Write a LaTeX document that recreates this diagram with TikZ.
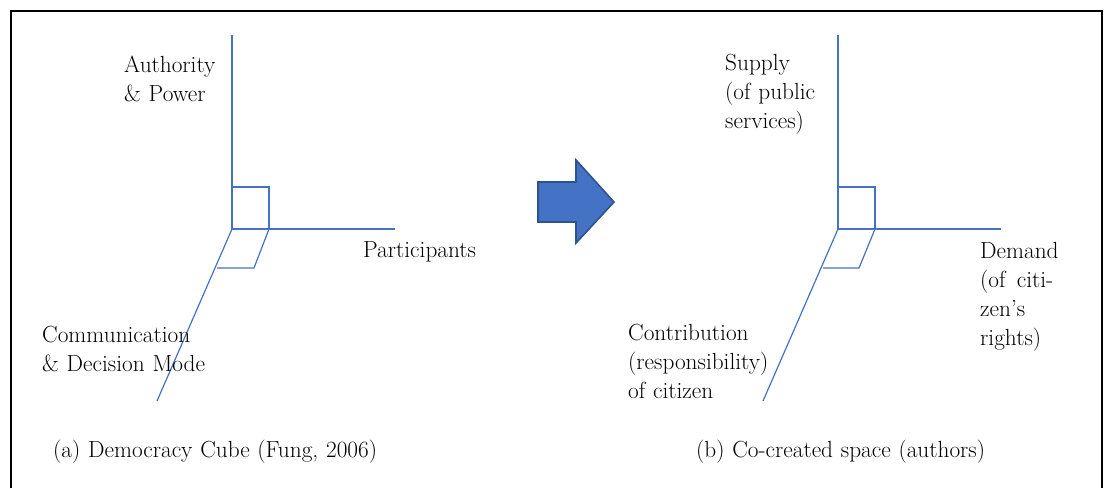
\documentclass[tikz,border=0pt]{standalone}
\usepackage{xcolor}
\definecolor{axisblue}{HTML}{4472C4}
\definecolor{arrowedge}{HTML}{2F528F}
\begin{document}
\begin{tikzpicture}[x=1pt,y=-1pt,
  axis/.style={draw=axisblue,line width=1.2pt},
  lbl/.style={inner sep=0pt,anchor=base west,align=left,text width=400pt,font=\fontsize{23.3}{29}\selectfont},
  frame/.style={draw=black,line width=2pt}]
\useasboundingbox (0,0) rectangle (1110,488);
\fill[white] (0,0) rectangle (1110,488);
\draw[frame] (11,488) -- (11,11) -- (1102,11) -- (1102,488);

% ---- left cube
\coordinate (oA) at (232,229);
\coordinate (upA) at (232,35);
\coordinate (rtA) at (395,229);
\coordinate (dnA) at (157,401);
\coordinate (sqA1) at (232,187);
\coordinate (sqA2) at (269,187);
\coordinate (sqA3) at (269,229);
\coordinate (pgA1) at (217,268);
\coordinate (pgA2) at (254,268);
\draw[axis] (upA) -- (oA) -- (rtA);
\draw[axis] (oA) -- (dnA);
\draw[axis] (sqA1) -- (sqA2) -- (sqA3);
\draw[axis] (pgA1) -- (pgA2) -- (sqA3);

% ---- right cube
\coordinate (oB) at (838,229);
\coordinate (upB) at (838,35);
\coordinate (rtB) at (1001,229);
\coordinate (dnB) at (763,401);
\coordinate (sqB1) at (838,187);
\coordinate (sqB2) at (875,187);
\coordinate (sqB3) at (875,229);
\coordinate (pgB1) at (823,268);
\coordinate (pgB2) at (859,268);
\draw[axis] (upB) -- (oB) -- (rtB);
\draw[axis] (oB) -- (dnB);
\draw[axis] (sqB1) -- (sqB2) -- (sqB3);
\draw[axis] (pgB1) -- (pgB2) -- (sqB3);

% ---- block arrow
\draw[draw=arrowedge,fill=axisblue,line width=1.6pt,line join=miter]
  (538,182) -- (576,182) -- (576,160) -- (614,202) -- (576,243) -- (576,222) -- (538,222) -- cycle;

% ---- labels
\node[lbl] (auth) at (124,72) {Authority\\\& Power};
\node[lbl] (part) at (363,257) {Participants};
\node[lbl] (comm) at (42,342) {Communication\\\& Decision Mode};
\node[lbl] (supp) at (725,70) {Supply\\(of public\\services)};
\node[lbl,text width=73pt] (dem) at (980,258) {Demand\\(of\hfill citi-\\zen's\\rights)};
\node[lbl] (contr) at (628,340) {Contribution\\(responsibility)\\of citizen};
\node[lbl] (capa) at (53,457) {(a) Democracy Cube (Fung, 2006)};
\node[lbl] (capb) at (696,457) {(b) Co-created space (authors)};
\end{tikzpicture}
\end{document}
